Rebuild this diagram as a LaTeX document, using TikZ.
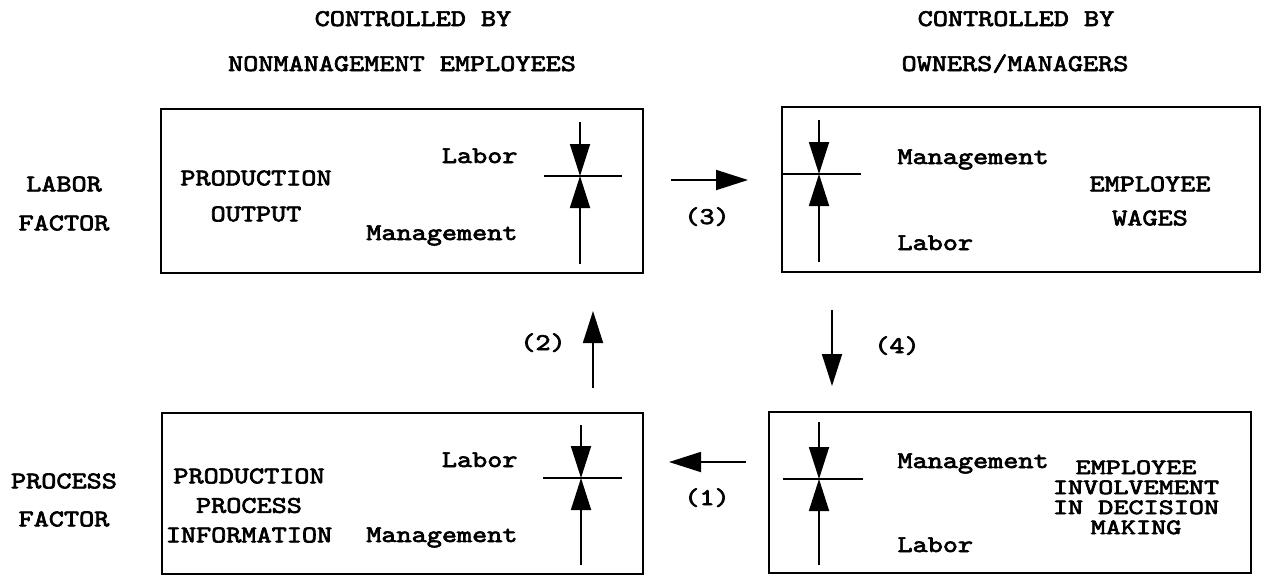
\documentclass[tikz,border=0pt]{standalone}
\usepackage{fontspec}
\newfontfamily\cour{lmmono10-regular.otf}[FakeBold=2.5]
\usetikzlibrary{arrows.meta,fit}
\begin{document}
\begin{tikzpicture}[x=0.5pt,y=-0.5pt,
  lbl/.style={font=\fontsize{12}{14}\selectfont\cour, xscale=1.2, inner sep=0pt},
  box/.style={draw, line width=1pt, inner sep=0pt},
  arr/.style={line width=0.9pt, -{Triangle[length=16pt,width=10pt]}},
  bar/.style={line width=0.9pt}]
\useasboundingbox (0,0) rectangle (1261,575);

% headings
\node[lbl, anchor=base] (h1a) at (413,26) {CONTROLLED BY};
\node[lbl, anchor=base] (h1b) at (402,71) {NONMANAGEMENT EMPLOYEES};
\node[lbl, anchor=base] (h2a) at (1016,26) {CONTROLLED BY};
\node[lbl, anchor=base] (h2b) at (1015,71) {OWNERS/MANAGERS};

% row labels
\node[lbl, anchor=north, align=center, font=\fontsize{12}{19.5}\selectfont\cour] (lf) at (64,176) {LABOR\\FACTOR};
\node[lbl, anchor=north, align=center, font=\fontsize{12}{19}\selectfont\cour] (pf) at (64,473) {PROCESS\\FACTOR};

% boxes
\node[box, fit={(161,109)(643,273)}] (b1) {};
\node[box, fit={(782,107)(1260,272)}] (b2) {};
\node[box, fit={(162,413)(643,574)}] (b3) {};
\node[box, fit={(769,412)(1251,573)}] (b4) {};

% box 1
\node[lbl, anchor=north, align=center, font=\fontsize{12}{18}\selectfont\cour] (t1) at (256,170) {PRODUCTION\\OUTPUT};
\node[lbl, anchor=base east] (l1) at (518,163) {Labor};
\node[lbl, anchor=base east] (m1) at (518,240) {Management};
\coordinate (b1t) at (580,122); \coordinate (b1m) at (580,176); \coordinate (b1b) at (580,264);
\coordinate (b1l) at (544,176); \coordinate (b1r) at (622,176);
\draw[bar] (b1l) -- (b1r);
\draw[arr] (b1t) -- (b1m);
\draw[arr] (b1b) -- (b1m);

% box 2
\node[lbl, anchor=north, align=center, font=\fontsize{12}{17}\selectfont\cour] (t2) at (1150,176) {EMPLOYEE\\WAGES};
\node[lbl, anchor=base west] (m2) at (897,164) {Management};
\node[lbl, anchor=base west] (l2) at (897,250) {Labor};
\coordinate (b2t) at (819,120); \coordinate (b2m) at (819,174); \coordinate (b2b) at (819,262);
\coordinate (b2l) at (782,174); \coordinate (b2r) at (861,174);
\draw[bar] (b2l) -- (b2r);
\draw[arr] (b2t) -- (b2m);
\draw[arr] (b2b) -- (b2m);

% box 3
\node[lbl, anchor=north, align=center, font=\fontsize{12}{14.75}\selectfont\cour] (t3) at (249,468) {PRODUCTION\\PROCESS\\INFORMATION};
\node[lbl, anchor=base east] (l3) at (518,467) {Labor};
\node[lbl, anchor=base east] (m3) at (518,542) {Management};
\coordinate (b3t) at (581,425); \coordinate (b3m) at (581,478); \coordinate (b3b) at (581,565);
\coordinate (b3l) at (543,478); \coordinate (b3r) at (622,478);
\draw[bar] (b3l) -- (b3r);
\draw[arr] (b3t) -- (b3m);
\draw[arr] (b3b) -- (b3m);

% box 4
\node[lbl, anchor=north, align=center, xscale=1.09, font=\fontsize{11}{10}\selectfont\cour] (t4) at (1136,460) {EMPLOYEE\\INVOLVEMENT\\IN DECISION\\MAKING};
\node[lbl, anchor=base west] (m4) at (897,468) {Management};
\node[lbl, anchor=base west] (l4) at (897,552) {Labor};
\coordinate (b4t) at (819,422); \coordinate (b4m) at (819,479); \coordinate (b4b) at (819,565);
\coordinate (b4l) at (783,479); \coordinate (b4r) at (863,479);
\draw[bar] (b4l) -- (b4r);
\draw[arr] (b4t) -- (b4m);
\draw[arr] (b4b) -- (b4m);

% connectors between boxes
\coordinate (a3s) at (671,180); \coordinate (a3e) at (748,180);
\coordinate (a2s) at (593,388); \coordinate (a2e) at (593,311);
\coordinate (a4s) at (832,310); \coordinate (a4e) at (832,386);
\coordinate (a1s) at (746,462); \coordinate (a1e) at (669,462);
\draw[arr] (a3s) -- (a3e);
\draw[arr] (a2s) -- (a2e);
\draw[arr] (a4s) -- (a4e);
\draw[arr] (a1s) -- (a1e);
\node[lbl, anchor=base] (n3) at (707,224) {(3)};
\node[lbl, anchor=base] (n2) at (543,350) {(2)};
\node[lbl, anchor=base] (n4) at (897,353) {(4)};
\node[lbl, anchor=base] (n1) at (707,505) {(1)};
\end{tikzpicture}
\end{document}
